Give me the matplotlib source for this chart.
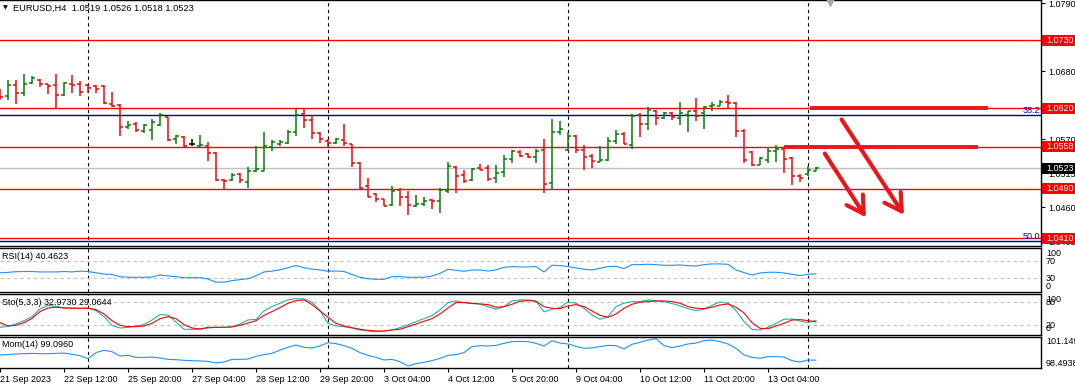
import matplotlib
matplotlib.use("Agg")
import matplotlib.pyplot as plt
from matplotlib.patches import Rectangle, FancyArrowPatch
import numpy as np

plt.rcParams['font.family'] = ['Liberation Sans', 'DejaVu Sans']

W, H, DPI = 1075, 387, 100

# EURUSD H4 bars, 21 Sep 04:00 .. 16 Oct 04:00
opens = [1.0642, 1.0640, 1.0658, 1.0645, 1.0661, 1.0666, 1.0659, 1.0658, 1.0642, 1.0659,
         1.0659, 1.0658, 1.0656, 1.0656, 1.0627, 1.0626, 1.0590, 1.0595, 1.0583, 1.0585,
         1.0593, 1.0606, 1.0570, 1.0574, 1.0562, 1.0559, 1.0559, 1.0548, 1.0505, 1.0504,
         1.0514, 1.0501, 1.0519, 1.0519, 1.0557, 1.0563, 1.0564, 1.0582, 1.0611, 1.0601,
         1.0580, 1.0568, 1.0564, 1.0569, 1.0562, 1.0532, 1.0494, 1.0482, 1.0473, 1.0464,
         1.0488, 1.0477, 1.0463, 1.0466, 1.0472, 1.0471, 1.0486, 1.0526, 1.0512, 1.0505,
         1.0524, 1.0524, 1.0507, 1.0517, 1.0538, 1.0549, 1.0547, 1.0541, 1.0553, 1.0499,
         1.0581, 1.0553, 1.0576, 1.0553, 1.0543, 1.0534, 1.0536, 1.0567, 1.0578, 1.0561,
         1.0610, 1.0595, 1.0616, 1.0605, 1.0613, 1.0605, 1.0609, 1.0616, 1.0612, 1.0623,
         1.0624, 1.0631, 1.0629, 1.0583, 1.0550, 1.0529, 1.0536, 1.0551, 1.0554, 1.0539,
         1.0511, 1.0514, 1.0519]
highs = [1.0652, 1.0665, 1.0665, 1.0675, 1.0672, 1.0667, 1.0660, 1.0675, 1.0663, 1.0674,
         1.0664, 1.0659, 1.0657, 1.0657, 1.0646, 1.0627, 1.0599, 1.0598, 1.0595, 1.0602,
         1.0612, 1.0606, 1.0577, 1.0575, 1.0571, 1.0577, 1.0566, 1.0549, 1.0506, 1.0516,
         1.0516, 1.0525, 1.0559, 1.0581, 1.0569, 1.0569, 1.0585, 1.0620, 1.0620, 1.0609,
         1.0581, 1.0570, 1.0572, 1.0595, 1.0563, 1.0533, 1.0507, 1.0483, 1.0474, 1.0494,
         1.0492, 1.0487, 1.0480, 1.0476, 1.0473, 1.0491, 1.0534, 1.0527, 1.0520, 1.0524,
         1.0530, 1.0528, 1.0528, 1.0544, 1.0553, 1.0553, 1.0548, 1.0555, 1.0570, 1.0602,
         1.0600, 1.0582, 1.0577, 1.0560, 1.0546, 1.0559, 1.0574, 1.0585, 1.0582, 1.0611,
         1.0613, 1.0622, 1.0617, 1.0614, 1.0614, 1.0630, 1.0616, 1.0636, 1.0623, 1.0630,
         1.0633, 1.0642, 1.0630, 1.0587, 1.0551, 1.0541, 1.0556, 1.0560, 1.0555, 1.0542,
         1.0514, 1.0527, 1.0526]
lows = [1.0633, 1.0634, 1.0627, 1.0640, 1.0659, 1.0655, 1.0643, 1.0619, 1.0640, 1.0644,
        1.0640, 1.0645, 1.0645, 1.0627, 1.0622, 1.0575, 1.0586, 1.0582, 1.0580, 1.0569,
        1.0591, 1.0568, 1.0563, 1.0557, 1.0559, 1.0557, 1.0535, 1.0503, 1.0489, 1.0503,
        1.0499, 1.0491, 1.0517, 1.0518, 1.0551, 1.0559, 1.0562, 1.0576, 1.0589, 1.0571,
        1.0564, 1.0558, 1.0563, 1.0559, 1.0526, 1.0489, 1.0476, 1.0469, 1.0462, 1.0462,
        1.0463, 1.0448, 1.0460, 1.0463, 1.0458, 1.0451, 1.0484, 1.0484, 1.0500, 1.0503,
        1.0520, 1.0502, 1.0500, 1.0509, 1.0531, 1.0542, 1.0539, 1.0532, 1.0483, 1.0489,
        1.0577, 1.0551, 1.0548, 1.0520, 1.0523, 1.0533, 1.0535, 1.0562, 1.0562, 1.0555,
        1.0573, 1.0585, 1.0593, 1.0602, 1.0601, 1.0593, 1.0582, 1.0600, 1.0586, 1.0615,
        1.0623, 1.0619, 1.0573, 1.0531, 1.0527, 1.0528, 1.0532, 1.0533, 1.0515, 1.0496,
        1.0501, 1.0511, 1.0518]
closes = [1.0638, 1.0658, 1.0645, 1.0659, 1.0669, 1.0659, 1.0656, 1.0642, 1.0661, 1.0658,
          1.0646, 1.0653, 1.0651, 1.0628, 1.0624, 1.0590, 1.0593, 1.0585, 1.0593, 1.0598,
          1.0609, 1.0569, 1.0575, 1.0559, 1.0562, 1.0561, 1.0548, 1.0504, 1.0503, 1.0512,
          1.0504, 1.0519, 1.0522, 1.0559, 1.0566, 1.0565, 1.0582, 1.0610, 1.0601, 1.0580,
          1.0570, 1.0564, 1.0570, 1.0564, 1.0532, 1.0491, 1.0477, 1.0473, 1.0463, 1.0487,
          1.0477, 1.0464, 1.0465, 1.0471, 1.0470, 1.0488, 1.0527, 1.0511, 1.0503, 1.0522,
          1.0521, 1.0506, 1.0516, 1.0538, 1.0551, 1.0543, 1.0542, 1.0551, 1.0497, 1.0581,
          1.0586, 1.0575, 1.0553, 1.0542, 1.0535, 1.0536, 1.0568, 1.0578, 1.0563, 1.0608,
          1.0595, 1.0618, 1.0605, 1.0612, 1.0606, 1.0612, 1.0615, 1.0608, 1.0622, 1.0625,
          1.0631, 1.0628, 1.0583, 1.0536, 1.0528, 1.0540, 1.0551, 1.0554, 1.0538, 1.0511,
          1.0508, 1.0520, 1.0523]

rsi = [43, 44, 45.6, 46, 46, 45, 45, 45, 46, 45, 47, 46, 43, 40, 39, 34, 32.5, 32.5, 32.5, 33,
       38, 35.5, 34, 31.5, 31.5, 31.5, 28.5, 21, 21, 24.5, 27, 29, 36, 45, 47, 50, 55, 60,
       55, 51.5, 49.6, 46.5, 47.3, 46, 39, 32.4, 29, 27.7, 27.7, 34, 34, 32.4, 32.4, 32.4,
       35.5, 41.8, 51.2, 48.9, 46.5, 49.6, 49.6, 47.3, 49.6, 55.9, 57.5, 56.7, 56.7, 57.5,
       44.9, 60.6, 59.8, 57.5, 54.4, 51.2, 49.6, 53.6, 57.5, 58.3, 52.8, 62.2, 62.2, 63,
       62.2, 60.6, 60.6, 61.4, 59.8, 59, 62.2, 63.8, 63.8, 63, 49.6, 43.4, 37.9, 42.6, 44.2,
       44.2, 42.6, 39.5, 36.3, 39.5, 40.4623]
sto_main = [14.8, 17.4, 23.5, 32, 42.6, 62.6, 72.2, 69.6, 65.3, 65.3, 64.4, 65.3, 58.3, 42.6,
            20, 13, 14.8, 18.3, 21.8, 33.9, 47.9, 47, 28.7, 9.6, 9.6, 9.6, 13, 14.8, 14.8,
            16.5, 23.5, 33.9, 35.7, 57.4, 68.8, 77.5, 86.2, 89.6, 88.7, 80.1, 58.3, 25.2,
            18.3, 16.5, 13, 7.8, 5.2, 3.5, 5.2, 7.8, 13.9, 20.9, 29.6, 37.4, 45.2, 60, 79.2,
            83.5, 79.2, 76.6, 75.7, 68.8, 61.8, 68.8, 83.5, 86.2, 86.2, 83.5, 54.8, 61.8,
            66.1, 80.9, 77.5, 64.4, 47, 35.7, 42.6, 68.8, 77.5, 81.8, 81.8, 86.2, 84.4, 81.5,
            77, 70.5, 63.5, 58.3, 61.8, 72.2, 80.9, 77.5, 58.3, 29.6, 9.6, 7.8, 14.8, 25.2,
            35.7, 36.6, 31.3, 27, 32.9730]
sto_signal = [27, 18.3, 20, 27, 38, 55.7, 65.3, 67, 65.3, 64.4, 64.4, 64.4, 61, 49.6, 32, 20,
              16.5, 16.5, 18.3, 25.2, 37.4, 42.6, 37.4, 21.8, 13, 10.4, 14.8, 14.8, 14.8,
              15.7, 20, 26, 32, 46, 55.7, 66.1, 77.5, 84.4, 86.2, 74, 57.4, 40.9, 25.2, 18.3,
              13.9, 9.6, 7, 5.2, 5.2, 7.8, 9.6, 16.5, 23.5, 30.5, 37.4, 49.6, 65.3, 79.2,
              79.2, 77.5, 75.7, 74, 67, 68.8, 74.8, 82.7, 84.4, 82.7, 68.8, 64.4, 63.5, 70.5,
              74, 68.8, 57.4, 46, 40.9, 49.6, 64.4, 74.8, 80.1, 81.8, 83.5, 83.5, 81.8, 77.5,
              68.8, 64.4, 63.5, 67, 73.1, 75.7, 67, 52.2, 27, 12.2, 11.3, 18.3, 25.2, 33.9,
              34.8, 32.2, 29.0644]
mom = [99.59, 99.62, 99.68, 99.71, 99.74, 99.71, 99.71, 99.74, 99.77, 99.65, 99.52, 99.24,
       99.81, 100.03, 99.90, 99.49, 99.55, 99.36, 99.36, 99.39, 99.30, 99.17, 99.14, 99.08,
       99.05, 99.02, 98.98, 98.83, 98.92, 99.17, 99.17, 99.20, 99.46, 99.62, 99.74, 100.06,
       100.31, 100.53, 100.31, 100.25, 100.44, 100.76, 100.66, 100.47, 100.22, 99.81, 99.55,
       99.36, 99.11, 99.17, 98.95, 98.54, 98.76, 98.89, 99.05, 99.27, 99.55, 99.62, 99.81,
       100.38, 100.47, 100.44, 100.50, 100.69, 100.85, 100.88, 100.85, 100.69, 100.44,
       100.94, 100.72, 100.63, 100.40, 100.22, 100.25, 100.38, 100.50, 100.47, 100.16,
       100.60, 100.79, 101.00, 101.13, 100.48, 100.28, 100.44, 100.63, 100.72, 100.94,
       101.00, 100.85, 100.63, 100.22, 99.59, 99.36, 99.27, 99.43, 99.43, 99.39, 99.05,
       98.92, 99.11, 99.0960]
mom_scale = [98.4938, 101.1495]

tick_bars = [0, 8, 16, 24, 32, 40, 48, 56, 64, 72, 80, 88, 96]
tick_labels = ['21 Sep 2023', '22 Sep 12:00', '25 Sep 20:00', '27 Sep 04:00', '28 Sep 12:00',
               '29 Sep 20:00', '3 Oct 04:00', '4 Oct 12:00', '5 Oct 20:00', '9 Oct 04:00',
               '10 Oct 12:00', '11 Oct 20:00', '13 Oct 04:00']
separators = [11, 41, 71, 101]

price_ticks = [1.0790, 1.0735, 1.0680, 1.0625, 1.0570, 1.0515, 1.0460, 1.0405]
red_levels = [1.0730, 1.0620, 1.0558, 1.0490, 1.0410]
fib_levels = [1.0609, 1.0406]
fib_names = ['38.2', '50.0']
bid = 1.0523

# drawn objects: (start bar, end bar, price) and arrows ((bar, price), (bar, price))
thick_lines = [(101.25, 123.5, 1.0621), (98.0, 122.25, 1.0557)]
arrows = [((105.2, 1.0602), (113.0, 1.0448)), ((103.1, 1.0547), (108.25, 1.0444))]
shift_mark = 103.75

RED = '#ff0000'
GREEN = '#008000'


def pixel_axes(fig, left, top, right, bottom):
    return fig.add_axes([left / W, 1 - bottom / H, (right - left) / W, (bottom - top) / H])


fig = plt.figure(figsize=(W / DPI, H / DPI), dpi=DPI)
fig.patch.set_facecolor('white')

ax = pixel_axes(fig, 0, 0, 1041, 246)
ax_rsi = pixel_axes(fig, 0, 248, 1041, 292)
ax_sto = pixel_axes(fig, 0, 294, 1041, 335)
ax_mom = pixel_axes(fig, 0, 337, 1041, 368)

for a in (ax, ax_rsi, ax_sto, ax_mom):
    a.set_xlim(0, 1041 / 8)
    a.set_facecolor('white')
    for side in ('top', 'bottom', 'right'):
        a.spines[side].set_color('black')
        a.spines[side].set_linewidth(1.0)
    a.spines['left'].set_visible(False)
    a.tick_params(axis='x', bottom=False, labelbottom=False)
    for sep in separators:
        a.axvline(sep, color='black', lw=0.8, linestyle=(0, (3, 3)), zorder=1)

# main price window
ax.set_ylim(1.03976, 1.0795)
ax.yaxis.tick_right()
ax.set_yticks(price_ticks)
ax.set_yticklabels([f'{p:.4f}' for p in price_ticks])
ax.tick_params(axis='y', length=3, width=0.8, pad=2, labelsize=6.5)

for lvl in red_levels:
    ax.axhline(lvl, color=RED, lw=1.0, zorder=2)
for lvl in fib_levels:
    ax.axhline(lvl, color='#000080', lw=1.0, zorder=2)
ax.axhline(bid, color='#c0c0c0', lw=1.0, zorder=2)

idx = np.arange(len(closes))
o, h, l, c = map(np.array, (opens, highs, lows, closes))
colors = np.where(c > o, GREEN, np.where(c < o, RED, 'black'))
ax.vlines(idx, l, h, colors=colors, lw=1.1, zorder=3)
ax.hlines(o, idx - 0.35, idx, colors=colors, lw=1.1, zorder=3)
ax.hlines(c, idx, idx + 0.35, colors=colors, lw=1.1, zorder=3)

for x0, x1, lvl in thick_lines:
    ax.hlines(lvl, x0, x1, color='#e81818', lw=2.8, zorder=4)
for start, end in arrows:
    ax.add_patch(FancyArrowPatch(start, end, arrowstyle='->,head_length=0.6,head_width=0.35',
                                 mutation_scale=20, color='#e81818', lw=3,
                                 shrinkA=0, shrinkB=0, zorder=5))
ax.plot(shift_mark, 1.0795 - 1.5 / 6190, marker='v', color='#a8a8a8', markersize=6,
        clip_on=True, zorder=5)

ytr = ax.get_yaxis_transform()
box_h = 11 / 6190
for lvl, col in [(v, RED) for v in red_levels] + [(bid, 'black')]:
    ax.add_patch(Rectangle((1042 / 1041, lvl - box_h / 2), 33 / 1041, box_h, transform=ytr,
                           facecolor=col, edgecolor='none', clip_on=False, zorder=6))
    ax.text(1046 / 1041, lvl, f'{lvl:.4f}', transform=ytr, color='white', fontsize=6.5,
            va='center', ha='left', clip_on=False, zorder=7)
for lvl, name in zip(fib_levels, fib_names):
    ax.text(1040 / 1041, lvl, name, transform=ytr, color='#0000c0', fontsize=6.5,
            va='bottom', ha='right', zorder=6)

fig.text(3 / W, 1 - 8 / H, '\u25bc', fontsize=4.5, va='center', ha='left', family='DejaVu Sans')
fig.text(13 / W, 1 - 8 / H,
         f'EURUSD,H4  {opens[-1]:.4f} {highs[-1]:.4f} {lows[-1]:.4f} {closes[-1]:.4f}',
         fontsize=6.7, va='center', ha='left')

# RSI window
ax_rsi.set_ylim(-2.1, 101.2)
ax_rsi.set_yticks([])
for lvl in (70, 30):
    ax_rsi.axhline(lvl, color='#c0c0c0', lw=0.8, linestyle=(0, (3, 3)))
ax_rsi.plot(idx, rsi, color='#1e90ff', lw=0.8)
t = ax_rsi.get_yaxis_transform()
for val, va in [(100, 'top'), (70, 'center'), (30, 'center'), (0, 'bottom')]:
    ax_rsi.text(1046 / 1041, val, str(val), transform=t, fontsize=6.5, va=va, ha='left')
ax_rsi.text(0.002, 0.80, f'RSI(14) {rsi[-1]:.4f}', transform=ax_rsi.transAxes,
            fontsize=6.5, va='center')

# Stochastic window
ax_sto.set_ylim(-5.2, 101.6)
ax_sto.set_yticks([])
for lvl in (80, 20):
    ax_sto.axhline(lvl, color='#c0c0c0', lw=0.8, linestyle=(0, (3, 3)))
ax_sto.plot(idx, sto_main, color='#20b2aa', lw=0.8)
ax_sto.plot(idx, sto_signal, color=RED, lw=0.8)
t = ax_sto.get_yaxis_transform()
for val, va in [(100, 'top'), (80, 'center'), (20, 'center'), (0, 'bottom')]:
    ax_sto.text(1046 / 1041, val, str(val), transform=t, fontsize=6.5, va=va, ha='left')
ax_sto.text(0.002, 0.80, f'Sto(5,3,3) {sto_main[-1]:.4f} {sto_signal[-1]:.4f}',
            transform=ax_sto.transAxes, fontsize=6.5, va='center')

# Momentum window
ax_mom.set_ylim(98.352, 101.292)
ax_mom.set_yticks([])
ax_mom.plot(idx, mom, color='#1e90ff', lw=0.8)
ax_mom.text(1046 / 1041, 1.0, f'{mom_scale[1]:.4f}', transform=ax_mom.transAxes,
            fontsize=6.5, va='top', ha='left')
ax_mom.text(1046 / 1041, 0.0, f'{mom_scale[0]:.4f}', transform=ax_mom.transAxes,
            fontsize=6.5, va='bottom', ha='left')
ax_mom.text(0.002, 0.77, f'Mom(14) {mom[-1]:.4f}', transform=ax_mom.transAxes,
            fontsize=6.5, va='center')

ax_mom.tick_params(axis='x', bottom=True, labelbottom=True, length=3, width=0.8, pad=2,
                   labelsize=6.5)
ax_mom.set_xticks(tick_bars)
ax_mom.set_xticklabels(tick_labels, ha='left')

fig.savefig('out.png', dpi=DPI, facecolor='white')
